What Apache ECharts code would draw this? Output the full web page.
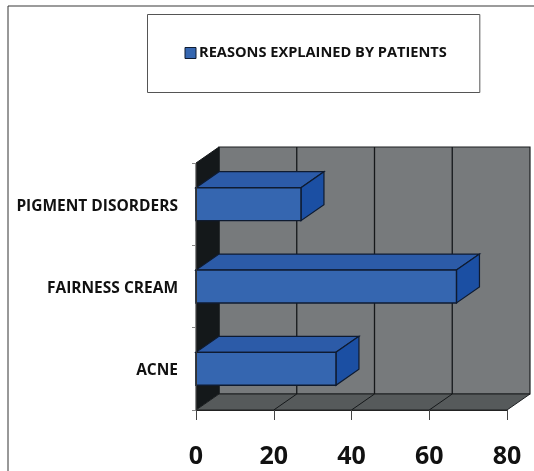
<!DOCTYPE html>
<html>
<head>
<meta charset="utf-8">
<style>html,body{margin:0;padding:0;background:#fff}#chart{width:534px;height:471px}</style>
<script src="https://cdn.jsdelivr.net/npm/echarts@6/dist/echarts.min.js"></script>
</head>
<body>
<div id="chart"></div>
<script>
// Reasons for use, reported by patients (3D-style horizontal bars)
const categories = ['ACNE', 'FAIRNESS CREAM', 'PIGMENT DISORDERS'];
const patientValues = [36, 67, 27];
const xTicks = [0, 20, 40, 60, 80];
const seriesName = 'REASONS EXPLAINED BY PATIENTS';

// Depth of the extruded box, in pixels
const DX = 23, DY = -16;
const FONT = '"Open Sans", sans-serif';
const EDGE = '#0f1b30';

function poly(points, fill, stroke, lineWidth) {
  return {
    type: 'polygon',
    shape: { points },
    style: { fill, stroke: stroke || 'none', lineWidth: lineWidth || 0 }
  };
}
function seg(x1, y1, x2, y2, stroke, lineWidth) {
  return { type: 'line', shape: { x1, y1, x2, y2 }, style: { stroke, lineWidth } };
}

// Back wall, side wall, floor and the gridlines that run across them
function renderRoom(params, api) {
  const g = params.coordSys;
  const l = g.x, r = g.x + g.width, t = g.y, b = g.y + g.height;
  const children = [
    poly([[l + DX, t + DY], [r + DX, t + DY], [r + DX, b + DY], [l + DX, b + DY]], '#777a7c', '#1c1f21', 1.2),
    poly([[l, t], [l + DX, t + DY], [l + DX, b + DY], [l, b]], '#14181a', '#14181a', 1),
    poly([[l, b], [r, b], [r + DX, b + DY], [l + DX, b + DY]], '#565a5b', '#1c1f21', 1)
  ];
  xTicks.slice(1, -1).forEach(v => {
    const x = api.coord([v, 0])[0];
    children.push(seg(x + DX, t + DY, x + DX, b + DY, '#15181a', 1.3));
    children.push(seg(x, b, x + DX, b + DY, '#15181a', 1));
  });
  return { type: 'group', children };
}

// One extruded bar: front face, top face and end face
function renderBar(params, api) {
  const end = api.coord([api.value(0), api.value(1)]);
  const x0 = api.coord([0, api.value(1)])[0];
  const h = api.size([0, 1])[1] * 0.4;
  const x1 = end[0], y0 = end[1] - h / 2, y1 = end[1] + h / 2;
  return {
    type: 'group',
    children: [
      poly([[x0, y0], [x1, y0], [x1 + DX, y0 + DY], [x0 + DX, y0 + DY]], '#2c5ba8', EDGE, 1.2),
      poly([[x1, y0], [x1 + DX, y0 + DY], [x1 + DX, y1 + DY], [x1, y1]], '#1b4fa3', EDGE, 1.2),
      poly([[x0, y0], [x1, y0], [x1, y1], [x0, y1]], '#3566b0', EDGE, 1.4)
    ]
  };
}

const chart = echarts.init(document.getElementById('chart'), null, { renderer: 'canvas' });
chart.setOption({
  animation: false,
  backgroundColor: '#fff',
  graphic: [
    { type: 'line', silent: true, shape: { x1: 8, y1: 6, x2: 534, y2: 6 }, style: { stroke: '#7a7a7a', lineWidth: 1.5 } },
    { type: 'line', silent: true, shape: { x1: 8, y1: 6, x2: 8, y2: 471 }, style: { stroke: '#333', lineWidth: 1 } }
  ],
  legend: {
    data: [seriesName],
    left: 147.5,
    top: 14.5,
    padding: [31, 33, 32, 37],
    itemWidth: 11,
    itemHeight: 11,
    itemGap: 0,
    icon: 'rect',
    backgroundColor: '#fff',
    borderColor: '#555',
    borderWidth: 1,
    formatter: n => n,
    textStyle: { fontFamily: FONT, fontWeight: 'bold', fontSize: 14.6, color: '#111', padding: [0, 0, 0, -2] },
    itemStyle: { color: '#3566b0', borderColor: EDGE, borderWidth: 1 }
  },
  grid: { left: 196, top: 163, width: 311, height: 247, containLabel: false },
  xAxis: {
    type: 'value',
    min: 0,
    max: 80,
    interval: 20,
    z: 6,
    splitLine: { show: false },
    axisLine: { show: true, lineStyle: { color: '#222', width: 1.2 } },
    axisTick: { show: true, length: 10, lineStyle: { color: '#444', width: 1 } },
    axisLabel: { margin: 34, fontFamily: FONT, fontWeight: 'bold', fontSize: 25, color: '#111', formatter: v => xTicks.includes(v) ? String(v) : '' }
  },
  yAxis: {
    type: 'category',
    data: categories,
    z: 6,
    axisLine: { show: true, lineStyle: { color: '#333', width: 1 } },
    axisTick: { show: true, length: 4, lineStyle: { color: '#888', width: 1 } },
    axisLabel: { margin: 18, fontFamily: FONT, fontWeight: 'bold', fontSize: 15.5, color: '#111', verticalAlign: 'top', lineHeight: 4 }
  },
  series: [
    {
      name: 'room',
      type: 'custom',
      z: 1,
      silent: true,
      clip: false,
      coordinateSystem: 'cartesian2d',
      renderItem: renderRoom,
      data: [[0, 0]],
      encode: { x: 0, y: 1 }
    },
    {
      name: seriesName,
      type: 'custom',
      z: 3,
      clip: false,
      coordinateSystem: 'cartesian2d',
      renderItem: renderBar,
      itemStyle: { color: '#3566b0' },
      data: patientValues.map((v, i) => [v, i]),
      encode: { x: 0, y: 1 }
    }
  ]
});
</script>
</body>
</html>
